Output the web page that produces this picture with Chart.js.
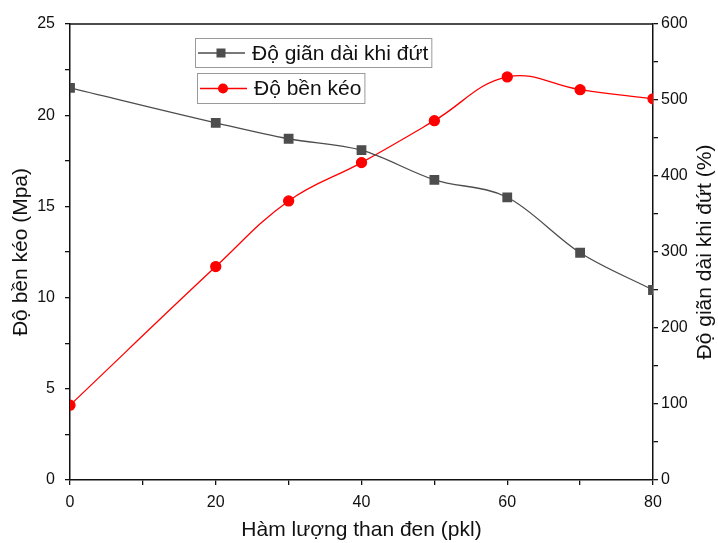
<!DOCTYPE html>
<html>
<head>
<meta charset="utf-8">
<script src="https://cdn.jsdelivr.net/npm/chart.js@4/dist/chart.umd.min.js"></script>
<style>
  html, body { margin: 0; padding: 0; background: #fff; }
  #wrap { width: 718px; height: 543px; position: relative; }
</style>
</head>
<body>
<div id="wrap"><canvas id="c" width="718" height="543"></canvas></div>
<script>
// ---- data ----
const carbonBlack = [0, 20, 30, 40, 50, 60, 70, 80];          // Hàm lượng than đen (pkl)
const elongation = [516, 470, 449, 434, 395, 372, 299, 250];  // Độ giãn dài khi đứt (%)
const tensile = [4.1, 11.7, 15.3, 17.4, 19.7, 22.1, 21.4, 20.9]; // Độ bền kéo (Mpa)
const seriesLabels = ['Độ giãn dài khi đứt', 'Độ bền kéo'];
const xTitle = 'Hàm lượng than đen (pkl)';
const yLeftTitle = 'Độ bền kéo (Mpa)';
const yRightTitle = 'Độ giãn dài khi đứt (%)';

const FONT = "'Liberation Sans', Arial, sans-serif";

const legendBoxes = {
  id: 'legendBoxes',
  afterDraw(chart) {
    const ctx = chart.ctx;
    const boxes = [
      { x: 195, y: 38, h: 29 },
      { x: 197, y: 73, h: 30 }
    ];
    ctx.save();
    ctx.font = '21px ' + FONT;
    chart.data.datasets.forEach((ds, i) => {
      const b = boxes[i];
      const tw = ctx.measureText(ds.label).width;
      const w = 57 + tw + 3;
      ctx.strokeStyle = '#9a9a9a';
      ctx.lineWidth = 1;
      ctx.strokeRect(b.x + 0.5, b.y + 0.5, w, b.h);
      const cy = b.y + b.h / 2 + 0.5;
      ctx.strokeStyle = ds.borderColor;
      ctx.lineWidth = 1.3;
      ctx.beginPath();
      ctx.moveTo(b.x + 3, cy);
      ctx.lineTo(b.x + 50, cy);
      ctx.stroke();
      ctx.fillStyle = ds.pointBackgroundColor;
      const mx = b.x + 26;
      if (ds.pointStyle === 'rect') {
        ctx.fillRect(mx - 4.5, cy - 4.5, 9, 9);
      } else {
        ctx.beginPath();
        ctx.arc(mx, cy, 5, 0, Math.PI * 2);
        ctx.fill();
      }
      ctx.fillStyle = '#111';
      ctx.textBaseline = 'middle';
      ctx.textAlign = 'left';
      ctx.fillText(ds.label, b.x + 57, cy + 1);
    });
    // top frame line
    const a = chart.chartArea;
    ctx.strokeStyle = '#111';
    ctx.lineWidth = 1.5;
    ctx.beginPath();
    ctx.moveTo(a.left, a.top);
    ctx.lineTo(a.right, a.top);
    ctx.stroke();
    // right axis title, reading bottom-to-top
    ctx.translate(705, (a.top + a.bottom) / 2);
    ctx.rotate(-Math.PI / 2);
    ctx.fillStyle = '#111';
    ctx.textAlign = 'center';
    ctx.textBaseline = 'middle';
    ctx.fillText(yRightTitle, 0, 0);
    ctx.restore();
  }
};

const axisGrid = { drawOnChartArea: false, drawTicks: true, tickLength: 5, color: '#111', lineWidth: 1.3 };
const axisBorder = { display: true, color: '#111', width: 1.5 };
const tickFont = { family: FONT, size: 16 };
const titleFont = { family: FONT, size: 21 };

new Chart(document.getElementById('c'), {
  type: 'line',
  data: {
    datasets: [
      {
        label: seriesLabels[0],
        data: carbonBlack.map((x, i) => ({ x: x, y: elongation[i] })),
        yAxisID: 'y1',
        borderColor: '#4d4d4d',
        backgroundColor: '#4d4d4d',
        pointBackgroundColor: '#4d4d4d',
        pointBorderColor: '#4d4d4d',
        pointStyle: 'rect',
        pointRadius: 6,
        borderWidth: 1.3,
        tension: 0.4,
        cubicInterpolationMode: 'monotone'
      },
      {
        label: seriesLabels[1],
        data: carbonBlack.map((x, i) => ({ x: x, y: tensile[i] })),
        yAxisID: 'y',
        borderColor: '#ff0000',
        backgroundColor: '#ff0000',
        pointBackgroundColor: '#ff0000',
        pointBorderColor: '#ff0000',
        pointStyle: 'circle',
        pointRadius: 5,
        borderWidth: 1.3,
        tension: 0.4
      }
    ]
  },
  options: {
    responsive: false,
    animation: false,
    layout: { padding: { top: 24, left: 0, right: 0, bottom: 0 } },
    plugins: { legend: { display: false }, tooltip: { enabled: false } },
    scales: {
      x: {
        type: 'linear', position: 'bottom', min: 0, max: 80,
        grid: axisGrid, border: axisBorder,
        ticks: { stepSize: 10, autoSkip: false, maxRotation: 0, padding: 8, color: '#111', font: tickFont,
                 callback: v => (v % 20 === 0 ? String(v) : '') },
        title: { display: true, text: xTitle, color: '#111', font: titleFont, padding: { top: 0, bottom: 0 } },
        afterFit: s => { s.height = 63; }
      },
      y: {
        type: 'linear', position: 'left', min: 0, max: 25,
        grid: axisGrid, border: axisBorder,
        ticks: { stepSize: 2.5, autoSkip: false, padding: 10, color: '#111', font: tickFont,
                 callback: v => (v % 5 === 0 ? String(v) : '') },
        title: { display: true, text: yLeftTitle, color: '#111', font: titleFont, padding: { top: 9, bottom: 0 } },
        afterFit: s => { s.width = 70; }
      },
      y1: {
        type: 'linear', position: 'right', min: 0, max: 600,
        grid: axisGrid, border: axisBorder,
        ticks: { stepSize: 50, autoSkip: false, padding: 3, color: '#111', font: tickFont,
                 callback: v => (v % 100 === 0 ? String(v) : '') },
        title: { display: false, text: yRightTitle },
        afterFit: s => { s.width = 65; }
      }
    }
  },
  plugins: [legendBoxes]
});
</script>
</body>
</html>
